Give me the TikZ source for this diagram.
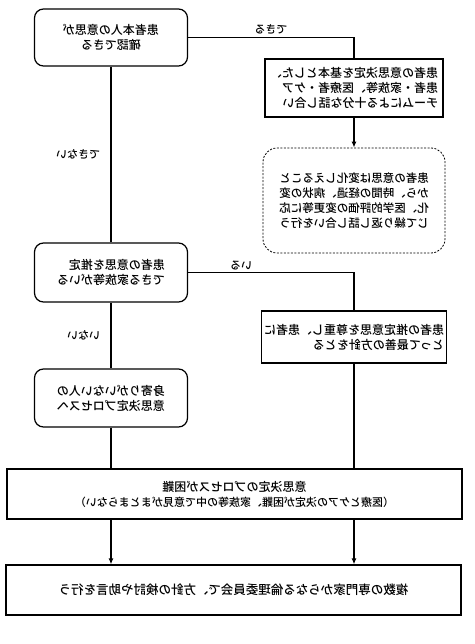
\documentclass[tikz,border=0pt]{standalone}
\usepackage{fontspec}
\setmainfont{Noto Sans CJK JP}[UprightFont=* Medium]
\usetikzlibrary{arrows.meta}

\begin{document}
\begin{tikzpicture}[xscale=-1,x=1pt,y=-1pt,
  every node/.append style={transform shape},
  font=\fontsize{12}{15}\selectfont,
  rbox/.style={draw,line width=1.2pt,rounded corners=9pt,minimum width=153pt,
               minimum height=57pt,align=center,inner sep=2pt},
  sbox/.style={draw,line width=1.2pt,minimum width=180pt,minimum height=55pt,
               align=left,inner sep=2pt},
  nbox/.style={draw,line width=0.8pt,dash pattern=on 2pt off 1.5pt,
               rounded corners=14pt,minimum width=182pt,minimum height=105pt,
               align=left,inner sep=2pt},
  wbox/.style={draw,line width=1.2pt,minimum width=455pt,minimum height=50pt,
               align=center},
  link/.style={line width=1.9pt},
  flow/.style={link,-{Latex[length=6pt,width=5pt]}},
  lab/.style={font=\fontsize{11}{13}\selectfont,inner sep=2pt},
]
\useasboundingbox (0,0) rectangle (474,644);

% ---------- main column ----------
\node[rbox] (confirm) at (363,37.5) {患者本人の意思が\\確認できる};
\node[rbox,align=left,minimum height=59pt] (estimate) at (363,272.5)
  {患者の意思を推定\\できる家族等がいる};
\node[rbox,align=left,minimum height=58pt] (alone) at (363,398)
  {身寄りがいない人の\\意思決定プロセスへ};

% ---------- side column ----------
\node[sbox,minimum width=178pt,minimum height=58pt] (discuss) at (120,88)
  {患者の意思決定を基本とした、\\患者・家族等、医療者・ケア\\チームによる十分な話し合い};
\node[nbox,font=\fontsize{11.5}{15}\selectfont] (repeat) at (120,200.5)
  {患者の意思は変化しえること\\から、時間の経過、病状の変\\化、医学的評価の変更等に応\\じて繰り返し話し合いを行う};
\node[sbox,minimum width=185pt,minimum height=52pt] (respect) at (120,337)
  {患者の推定意思を尊重し、患者に\\とって最善の方針をとる};

% ---------- bottom ----------
\node[wbox] (hard) at (239.5,494)
  {意思決定のプロセスが困難\\{\fontsize{11}{15}\selectfont （医療とケアの決定が困難、家族等の中で意見がまとまらない）}};
\node[wbox,font=\fontsize{12.5}{15}\selectfont] (ethics) at (240.5,590)
  {複数の専門家からなる倫理委員会で、方針の検討や助言を行う};

% ---------- connectors ----------
\draw[link] (confirm.west) -| node[lab,above,pos=0.25] {できる} (discuss.north);
\draw[flow] (discuss) -- (repeat);
\draw[link] (confirm) -- node[lab,right=8pt] {できない} (estimate);
\draw[link] (estimate.west) -| node[lab,above,pos=0.16] {いる} (respect.north);
\draw[link] (estimate) -- node[lab,right=8pt] {いない} (alone);
\draw[link] (alone) -- (alone |- hard.north);
\draw[link] (respect) -- (respect |- hard.north);
\draw[flow] (alone |- hard.south) -- (alone |- ethics.north);
\draw[flow] (respect |- hard.south) -- (respect |- ethics.north);
\end{tikzpicture}
\end{document}
